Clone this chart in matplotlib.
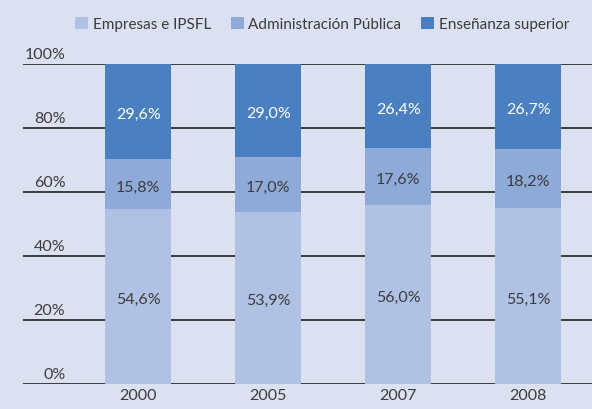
import numpy as np
import matplotlib.pyplot as plt

plt.rcParams['font.family'] = ['Lato', 'DejaVu Sans']

years = ['2000', '2005', '2007', '2008']
empresas = [54.6, 53.9, 56.0, 55.1]
administracion = [15.8, 17.0, 17.6, 18.2]
ensenanza = [29.6, 29.0, 26.4, 26.7]
series_names = ['Empresas e IPSFL', 'Administración Pública', 'Enseñanza superior']
yticks = [0, 20, 40, 60, 80, 100]

bg = '#dce1f1'
colors = ['#b0c2e3', '#8eaad8', '#4a7fc1']
text_colors = ['#3c3c3c', '#3c3c3c', 'white']

fig = plt.figure(figsize=(5.92, 4.10), dpi=100, facecolor=bg)
ax = fig.add_axes([23 / 592, 1 - 385 / 410, 1 - 23 / 592, 320 / 410], facecolor=bg)

x = np.arange(len(years))
bottom = np.zeros(len(years))
for vals, name, c, tc in zip([empresas, administracion, ensenanza], series_names, colors, text_colors):
    vals = np.array(vals)
    ax.bar(x, vals, bottom=bottom, width=0.51, color=c, label=name, zorder=2)
    for xi, b, v in zip(x, bottom, vals):
        ax.text(xi, b + v / 2 - 0.8, f'{v:.1f}%'.replace('.', ','), ha='center', va='center',
                color=tc, fontsize=11.5, zorder=3)
    bottom += vals

for t in yticks:
    ax.axhline(t, color='#3a3a3a', lw=1.4, zorder=1)
    ax.text(-0.56, t + 1.0, f'{t}%', ha='right', va='bottom', color='#3c3c3c', fontsize=11.5)

ax.set_xlim(-0.885, 3.49)
ax.set_ylim(0, 100)
ax.set_xticks(x)
ax.set_xticklabels(years, fontsize=11.5, color='#3c3c3c')
ax.tick_params(axis='x', length=0, pad=3)
ax.set_yticks([])
for s in ax.spines.values():
    s.set_visible(False)

fig.legend(loc='upper left', bbox_to_anchor=(75 / 592, 1 - 18 / 410), ncol=3, frameon=False,
           fontsize=11, handlelength=0.85, handleheight=0.85, handletextpad=0.3, columnspacing=1.3,
           borderpad=0, borderaxespad=0, labelcolor='#3c3c3c')

fig.savefig('out.png', dpi=100, facecolor=bg)
